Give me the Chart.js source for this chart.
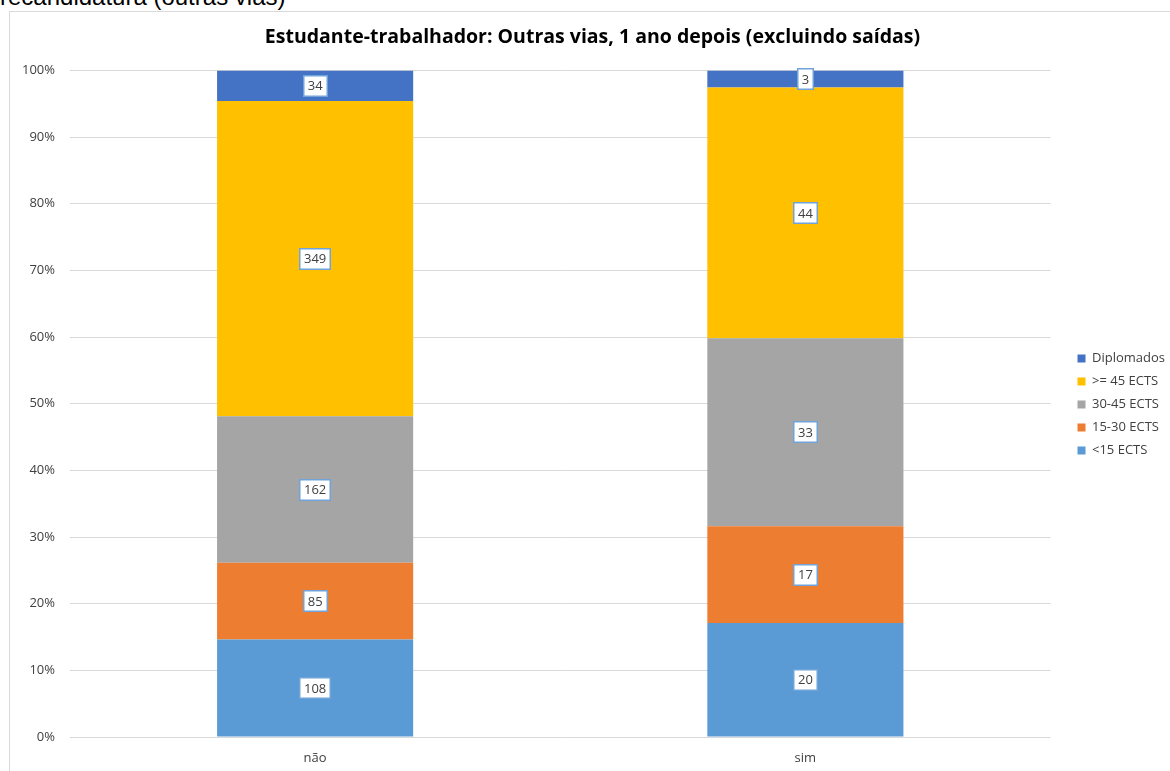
<!DOCTYPE html>
<html>
<head>
<meta charset="utf-8">
<script src="https://cdn.jsdelivr.net/npm/chart.js@4.4.0/dist/chart.umd.min.js"></script>
<style>
  html, body { margin: 0; padding: 0; background: #fff; overflow: hidden; }
  #wrap { position: relative; width: 1170px; height: 771px; }
  #head { position: absolute; left: 0; top: -15px; font: 24px "Liberation Sans", Arial, sans-serif; line-height: 24px; color: #000; white-space: nowrap; }
  #box { position: absolute; left: 9px; top: 11px; width: 1170px; height: 770px; border: 1px solid #d9d9d9; box-sizing: border-box; }
  #c { position: absolute; left: 0; top: 0; }
</style>
</head>
<body>
<div id="wrap">
  <div id="head">recandidatura (outras vias)</div>
  <div id="box"></div>
  <canvas id="c" width="1170" height="771"></canvas>
</div>
<script>
const categories = ["não", "sim"];
const seriesNames = ["<15 ECTS", "15-30 ECTS", "30-45 ECTS", ">= 45 ECTS", "Diplomados"];
const lt15 = [108, 20];
const e15_30 = [85, 17];
const e30_45 = [162, 33];
const ge45 = [349, 44];
const diplomados = [34, 3];
const seriesColors = ["#5B9BD5", "#ED7D31", "#A5A5A5", "#FFC000", "#4472C4"];
const yTicks = [0, 10, 20, 30, 40, 50, 60, 70, 80, 90, 100];

const counts = [lt15, e15_30, e30_45, ge45, diplomados];
const totals = categories.map((_, i) => counts.reduce((s, a) => s + a[i], 0));

const datasets = counts.map((arr, k) => ({
  label: seriesNames[k],
  data: arr.map((v, i) => v / totals[i] * 100),
  counts: arr,
  backgroundColor: seriesColors[k],
  borderWidth: 0,
  barPercentage: 0.4,
  categoryPercentage: 1.0
}));

const FONT = "'Open Sans', sans-serif";
const LEGEND_SHIFT_X = 17;
const LEGEND_SHIFT_Y = 6;

const labelPlugin = {
  id: 'boxLabels',
  afterInit(chart) {
    const lg = chart.legend;
    if (!lg) return;
    const fit = lg.fit.bind(lg);
    lg.fit = function () { fit(); this.width += LEGEND_SHIFT_X; };
    const draw = lg.draw.bind(lg);
    lg.draw = function () {
      const c = chart.ctx; c.save(); c.translate(LEGEND_SHIFT_X, LEGEND_SHIFT_Y); draw(); c.restore();
    };
  },
  afterDatasetsDraw(chart) {
    const ctx = chart.ctx;
    ctx.save();
    ctx.font = "13px " + FONT;
    ctx.textAlign = 'center';
    ctx.textBaseline = 'middle';
    chart.data.datasets.forEach((ds, di) => {
      const meta = chart.getDatasetMeta(di);
      meta.data.forEach((bar, i) => {
        const txt = String(ds.counts[i]);
        const cy = (bar.y + bar.base) / 2;
        const w = Math.round(ctx.measureText(txt).width + 10);
        const h = 22;
        const x0 = Math.round(bar.x - w / 2);
        const y0 = Math.round(cy - h / 2);
        ctx.fillStyle = '#ffffff';
        ctx.fillRect(x0, y0, w, h);
        ctx.strokeStyle = '#6FA3DA';
        ctx.lineWidth = 1.5;
        ctx.strokeRect(x0 + 0.75, y0 + 0.75, w - 1.5, h - 1.5);
        ctx.fillStyle = '#404040';
        ctx.fillText(txt, bar.x, cy + 1);
      });
    });
    ctx.restore();
  }
};

new Chart(document.getElementById('c'), {
  type: 'bar',
  data: { labels: categories, datasets },
  plugins: [labelPlugin],
  options: {
    responsive: false,
    animation: false,
    layout: { padding: { left: 10, top: 26, right: -5, bottom: 0 } },
    plugins: {
      title: {
        display: true,
        text: "Estudante-trabalhador: Outras vias, 1 ano depois (excluindo saídas)",
        color: '#000',
        font: { family: FONT, size: 19.5, weight: 'bold' },
        padding: { top: 0, bottom: 21 }
      },
      legend: {
        position: 'right',
        reverse: true,
        labels: {
          boxWidth: 8, boxHeight: 8, padding: 10,
          color: '#404040',
          font: { family: FONT, size: 13 }
        }
      },
      tooltip: { enabled: false }
    },
    scales: {
      x: {
        stacked: true,
        grid: { display: false, drawTicks: false },
        border: { display: false },
        ticks: { color: '#404040', font: { family: FONT, size: 13 }, padding: 13 },
        afterFit(s) { s.height = 34; }
      },
      y: {
        stacked: true,
        min: 0, max: 100,
        afterBuildTicks(s) { s.ticks = yTicks.map(v => ({ value: v })); },
        grid: { color: '#d9d9d9', drawTicks: false, lineWidth: 1 },
        border: { display: false },
        ticks: { color: '#404040', font: { family: FONT, size: 13 }, padding: 15, callback: v => v + '%' },
        afterFit(s) { s.width = 60; }
      }
    }
  }
});
</script>
</body>
</html>
